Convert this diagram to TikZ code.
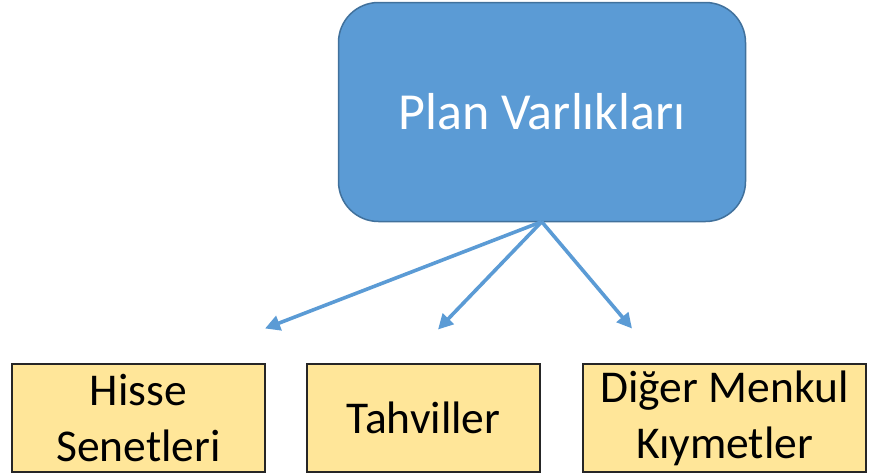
\documentclass[tikz,border=0pt]{standalone}
\usepackage{fontspec}
\setmainfont{Carlito}
\usetikzlibrary{arrows.meta}
\definecolor{mblue}{HTML}{5B9BD5}
\definecolor{mbord}{HTML}{41719C}
\definecolor{myel}{HTML}{FFE699}
\begin{document}
\begin{tikzpicture}[x=1pt,y=-1pt,
  mainbox/.style={draw=mbord,line width=1.5pt,fill=mblue,rounded corners=40pt,minimum width=407pt,minimum height=219pt,inner sep=0pt,text=white,font=\fontsize{52}{62}\selectfont},
  leafbox/.style={draw=black!85,line width=1.4pt,fill=myel,minimum height=108pt,inner sep=0pt,align=center,font=\fontsize{45.5}{56}\selectfont},
  conn/.style={draw=mblue,line width=3.6pt,-{Triangle[length=15pt,width=15pt]}}]
\useasboundingbox (0,0) rectangle (876,474);
\node[mainbox] (main) at (542,112) {Plan Varlıkları};
\node[leafbox,minimum width=253pt] (b1) at (138.5,418) {Hisse\\Senetleri};
\node[leafbox,minimum width=233pt] (b2) at (423.5,418) {Tahviller};
\node[leafbox,minimum width=283pt] (b3) at (724.5,418) {Diğer Menkul\\Kıymetler};
\coordinate (src) at (541.7,221.7);
\coordinate (e1) at (265,328.5);
\coordinate (e2) at (438,329.5);
\coordinate (e3) at (632,328.5);
\draw[conn] (src) -- (e1);
\draw[conn] (src) -- (e2);
\draw[conn] (src) -- (e3);
\end{tikzpicture}
\end{document}
